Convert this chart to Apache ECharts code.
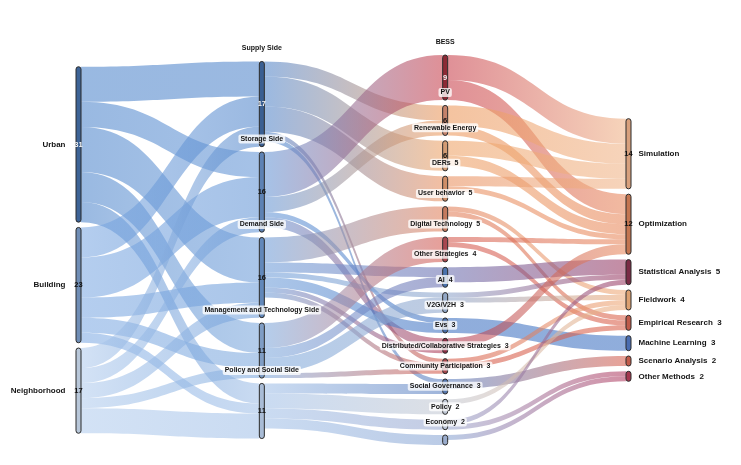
<!DOCTYPE html>
<html><head><meta charset="utf-8">
<script src="https://cdn.jsdelivr.net/npm/echarts@6/dist/echarts.min.js"></script>
<style>html,body{margin:0;padding:0;background:#fff}#c{width:741px;height:465px}</style>
</head><body><div id="c"></div>
<script>
// ---------- data ----------
const scales = ['Urban','Building','Neighborhood'];
const scaleValues = [31,23,17];
const sides = ['Supply Side','Storage Side','Demand Side','Management and Technology Side','Policy and Social Side'];
const sideValues = [17,16,16,11,11];
const topics = ['BESS','PV','Renewable Energy','DERs','User behavior','Digital Technology','Other Strategies','AI','V2G/V2H','Evs','Distributed/Collaborative Strategies','Community Participation','Social Governance','Policy','Economy'];
const topicValues = [9,6,6,5,5,5,4,4,3,3,3,3,3,2,2];
const methods = ['Simulation','Optimization','Statistical Analysis','Fieldwork','Empirical Research','Machine Learning','Scenario Analysis','Other Methods'];
const methodValues = [14,12,5,4,3,3,2,2];

const scaleToSide = [
 ['Urban','Supply Side',7],['Urban','Storage Side',5],['Urban','Demand Side',9],['Urban','Management and Technology Side',6],['Urban','Policy and Social Side',4],
 ['Building','Supply Side',6],['Building','Storage Side',8],['Building','Demand Side',4],['Building','Management and Technology Side',3],['Building','Policy and Social Side',2],
 ['Neighborhood','Supply Side',4],['Neighborhood','Storage Side',3],['Neighborhood','Demand Side',3],['Neighborhood','Management and Technology Side',2],['Neighborhood','Policy and Social Side',5]
];
const sideToTopic = [
 ['Supply Side','PV',3],['Supply Side','Renewable Energy',6],['Supply Side','DERs',5],['Supply Side','Distributed/Collaborative Strategies',1],['Supply Side','Community Participation',1],
 ['Storage Side','BESS',9],['Storage Side','PV',3],['Storage Side','V2G/V2H',1],['Storage Side','Evs',2],
 ['Demand Side','User behavior',5],['Demand Side','Other Strategies',2],['Demand Side','AI',1],['Demand Side','V2G/V2H',2],['Demand Side','Evs',1],['Demand Side','Distributed/Collaborative Strategies',1],
 ['Management and Technology Side','Digital Technology',5],['Management and Technology Side','Other Strategies',2],['Management and Technology Side','AI',3],['Management and Technology Side','Distributed/Collaborative Strategies',1],
 ['Policy and Social Side','Community Participation',2],['Policy and Social Side','Social Governance',3],['Policy and Social Side','Policy',2],['Policy and Social Side','Economy',2]
];
const topicToMethod = [
 ['BESS','Simulation',5],['BESS','Optimization',4],
 ['PV','Simulation',4],['PV','Optimization',2],
 ['Renewable Energy','Simulation',3],['Renewable Energy','Optimization',2],
 ['DERs','Simulation',2],['DERs','Optimization',1],
 ['User behavior','Fieldwork',1],['User behavior','Empirical Research',1],
 ['Digital Technology','Optimization',1],['Digital Technology','Empirical Research',1],
 ['Other Strategies','Statistical Analysis',3],
 ['AI','Statistical Analysis',1],['AI','Fieldwork',1],
 ['V2G/V2H','Machine Learning',3],
 ['Evs','Optimization',2],
 ['Distributed/Collaborative Strategies','Fieldwork',1],['Distributed/Collaborative Strategies','Empirical Research',1],
 ['Community Participation','Scenario Analysis',2],
 ['Social Governance','Fieldwork',1],
 ['Policy','Statistical Analysis',1],['Policy','Other Methods',1],
 ['Economy','Other Methods',1]
];

// ---------- styles ----------
const nodeFill = {
 'Urban':'#3d6396','Building':'#6f8db5','Neighborhood':'#b8c7d9',
 'Supply Side':'#3a5f92','Storage Side':'#5d82b4','Demand Side':'#6288ba','Management and Technology Side':'#7f9dc4','Policy and Social Side':'#a9bcd6',
 'BESS':'#8c2a35','PV':'#c4826a','Renewable Energy':'#d39c74','DERs':'#cf8e68','User behavior':'#c47a5e','Digital Technology':'#a8474f',
 'Other Strategies':'#4b73ad','AI':'#93a8c6','V2G/V2H':'#4a6ea6','Evs':'#8a2f45','Distributed/Collaborative Strategies':'#a3474c',
 'Community Participation':'#5878ad','Social Governance':'#c0c8d4','Policy':'#b9c3d6','Economy':'#9aaccc',
 'Simulation':'#d8a07c','Optimization':'#c47550','Statistical Analysis':'#7a2b45','Fieldwork':'#dca070','Empirical Research':'#bf5b4a',
 'Machine Learning':'#4a6db0','Scenario Analysis':'#c15c4b','Other Methods':'#a3384f'
};
const flowColor = {
 'Urban':'#4f86cc','Building':'#7eaae3','Neighborhood':'#b3cdee',
 'Supply Side':'#5286cb','Storage Side':'#6596d6','Demand Side':'#6e9dd9','Management and Technology Side':'#7ea9dd','Policy and Social Side':'#a3c1e8',
 'BESS':'#c8404c','PV':'#ec985b','Renewable Energy':'#eea266','DERs':'#e99060','User behavior':'#e2805a','Digital Technology':'#d55a50',
 'Other Strategies':'#6a6fb0','AI':'#8fa6cc','V2G/V2H':'#3f72c2','Evs':'#b03a55','Distributed/Collaborative Strategies':'#d65a48',
 'Community Participation':'#5a7fc0','Social Governance':'#c3c8d2','Policy':'#9aa8d0','Economy':'#8aa6d4',
 'Simulation':'#f0b488','Optimization':'#e8885c','Statistical Analysis':'#9a3a62','Fieldwork':'#eeaa78','Empirical Research':'#d9604a',
 'Machine Learning':'#3f72c2','Scenario Analysis':'#d7604e','Other Methods':'#b23e62'
};
const whiteValue = {'Urban':1,'Supply Side':1,'BESS':1};

const FONT = 'Liberation Sans, Arial, sans-serif';
const TOP = 55, BOTTOM = 20, HEIGHT = 465 - TOP - BOTTOM, GAP = 5.3;

const columns = [
 {names:scales, values:scaleValues, pos:'left', dist:8, size:8},
 {names:sides, values:sideValues, pos:'top', dist:8, size:7},
 {names:topics, values:topicValues, pos:'top', dist:8, size:7},
 {names:methods, values:methodValues, pos:'right', dist:5, size:8}
];

// scale factor the library will use, so columns can be centred with an invisible pad node
let ky = Infinity;
columns.forEach(c => {
  const s = c.values.reduce((a,b)=>a+b,0);
  ky = Math.min(ky, (HEIGHT - (c.names.length-1)*GAP)/s);
});

function buildNodes(valueLayer){
  const out = [];
  columns.forEach((c, d) => {
    const s = c.values.reduce((a,b)=>a+b,0);
    const offset = (HEIGHT - (s*ky + (c.names.length-1)*GAP))/2;
    if (offset > GAP) {
      out.push({name:'__pad'+d, value:(offset-GAP)/ky, depth:d,
        itemStyle:{color:'rgba(0,0,0,0)', borderWidth:0, opacity:0}, label:{show:false}});
    }
    c.names.forEach((n, i) => {
      const v = c.values[i];
      const node = {name:n, value:v, depth:d};
      if (!valueLayer) {
        node.itemStyle = {color:nodeFill[n], borderColor:'#2a2a2a', borderWidth:1, borderRadius:3};
        node.label = {show:true, position:c.pos, distance:c.dist, fontSize:c.size,
          formatter: v >= 6 ? n : n + '  ' + v};
      } else {
        node.itemStyle = {opacity:0};
        node.label = {show: v >= 6, position:'inside', formatter:String(v),
          color: whiteValue[n] ? '#f4f4f4' : '#111', fontSize:7.5, fontWeight:'bold', fontFamily:FONT,
          backgroundColor:'transparent', padding:0};
      }
      out.push(node);
    });
  });
  return out;
}

function buildLinks(valueLayer){
  return scaleToSide.concat(sideToTopic, topicToMethod).map(([s,t,v]) => ({
    source:s, target:t, value:v,
    lineStyle: valueLayer ? {opacity:0} : {
      opacity:0.58,
      color:{type:'linear', x:0, y:0, x2:1, y2:0,
        colorStops:[{offset:0, color:flowColor[s]},{offset:1, color:flowColor[t]}]}
    }
  }));
}

const common = {
  type:'sankey', left:76, right:110, top:TOP, bottom:BOTTOM,
  nodeWidth:5, nodeGap:GAP, layoutIterations:0, nodeAlign:'left', draggable:false,
  emphasis:{disabled:true}
};

const chart = echarts.init(document.getElementById('c'), null, {renderer:'canvas'});
chart.setOption({
  backgroundColor:'#ffffff',
  animation:false,
  tooltip:{show:false},
  series:[
    Object.assign({}, common, {
      data: buildNodes(false),
      links: buildLinks(false),
      lineStyle:{curveness:0.5},
      label:{fontFamily:FONT, fontWeight:'bold', color:'#151515',
        backgroundColor:'rgba(255,255,255,0.78)', padding:[1,2], borderRadius:2}
    }),
    Object.assign({}, common, {
      silent:true,
      data: buildNodes(true),
      links: buildLinks(true),
      lineStyle:{curveness:0.5}
    })
  ]
});
</script>
</body></html>
